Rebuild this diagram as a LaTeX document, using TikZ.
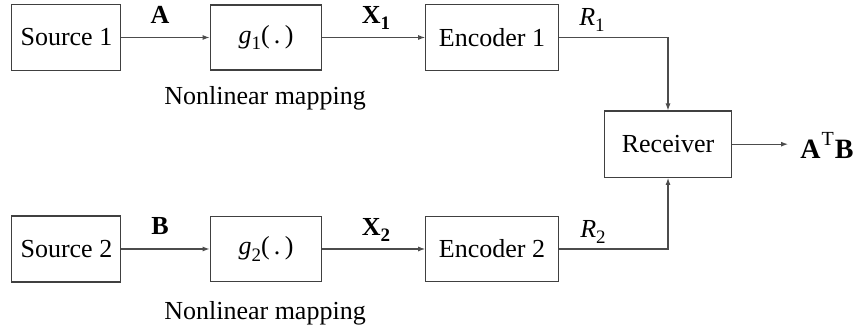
\documentclass[tikz,border=0pt]{standalone}
\usepackage{fontspec}
\setmainfont{Liberation Serif}
\usetikzlibrary{arrows.meta}
\tikzset{
  blk/.style={draw=black!75, line width=0.55pt, fill=white, inner sep=0pt,
    font=\rmfamily\fontsize{13}{15}\selectfont},
  lbl/.style={inner sep=0pt, font=\rmfamily\fontsize{13}{15}\selectfont},
  conn/.style={draw=black!70, line width=0.55pt, -{Latex[length=3.5pt,width=2.5pt]}}
}
\newcommand{\lowsub}[1]{\raisebox{-0.25em}{\fontsize{9.5}{11}\selectfont #1}}
\begin{document}
\begin{tikzpicture}[x=0.5pt,y=-0.5pt]
\useasboundingbox (0,0) rectangle (860,335);
% upper chain
\node[blk, minimum width=54.5pt, minimum height=33pt] (s1) at (66.4,37.5) {Source 1};
\node[blk, minimum width=55.85pt, minimum height=32.5pt] (g1) at (266,37.5) {\textit{g}\lowsub{1}(\,.\,)};
\node[blk, minimum width=66.3pt, minimum height=32.8pt] (e1) at (492,37.5) {Encoder 1};
% lower chain
\node[blk, minimum width=54.5pt, minimum height=33pt] (s2) at (66.4,249) {Source 2};
\node[blk, minimum width=55.85pt, minimum height=32.15pt] (g2) at (266,249) {\textit{g}\lowsub{2}(\,.\,)};
\node[blk, minimum width=66.3pt, minimum height=32.8pt] (e2) at (492,249) {Encoder 2};
% receiver
\node[blk, minimum width=63.35pt, minimum height=33.15pt] (rx) at (668,144.2) {Receiver};
\coordinate (out) at (788,144.2);
% labels
\node[lbl] (la) at (160,15) {\textbf{A}};
\node[lbl] (lb) at (160,226) {\textbf{B}};
\node[lbl] (lx1) at (376,18) {\textbf{X\lowsub{1}}};
\node[lbl] (lx2) at (376,230) {\textbf{X\lowsub{2}}};
\node[lbl] (lr1) at (592,20) {\textit{R}\lowsub{1}};
\node[lbl] (lr2) at (593,232) {\textit{R}\lowsub{2}};
\node[lbl] (nm1) at (265,98) {Nonlinear mapping};
\node[lbl] (nm2) at (265,313) {Nonlinear mapping};
\node[lbl, anchor=west, font=\rmfamily\fontsize{14}{16}\selectfont] (res) at (800,145.5)
  {\textbf{A}\kern0.5pt\raisebox{0.45em}{\fontsize{10}{12}\selectfont T}\kern0.5pt\textbf{B}};
% connectors
\draw[conn] (s1.east) -- (g1.west);
\draw[conn] (g1.east) -- (e1.west);
\draw[conn] (s2.east) -- (g2.west);
\draw[conn] (g2.east) -- (e2.west);
\draw[conn] (e1.east) -| (rx.north);
\draw[conn] (e2.east) -| (rx.south);
\draw[conn] (rx.east) -- (out);
\end{tikzpicture}
\end{document}
